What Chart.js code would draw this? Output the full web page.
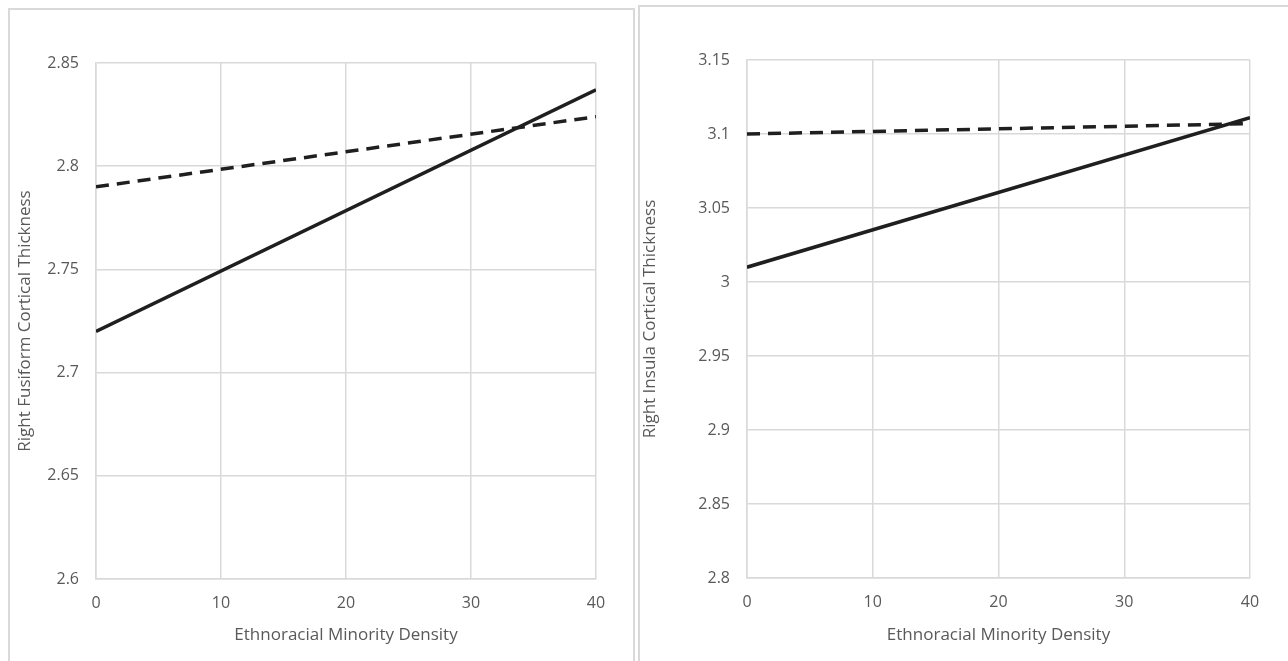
<!DOCTYPE html>
<html lang="en">
<head>
  <meta charset="UTF-8" />
  <title>Ethnoracial Minority Density and Cortical Thickness</title>
  <script src="https://cdn.jsdelivr.net/npm/chart.js"></script>
  <style>
    body { margin: 0; background: #fff; width: 1288px; height: 661px; overflow: hidden; position: relative; }
    .box { position: absolute; border: 2px solid #d9d9d9; box-sizing: border-box; }
    #boxLeft { left: 8px; top: 8px; width: 627px; height: 680px; }
    #boxRight { left: 638px; top: 5px; width: 680px; height: 680px; }
    canvas { position: absolute; }
    #chartLeft { left: 8px; top: 9px; }
    #chartRight { left: 639px; top: 6px; }
  </style>
</head>
<body>
  <div class="box" id="boxLeft"></div>
  <div class="box" id="boxRight"></div>
  <canvas id="chartLeft" width="625" height="652" style="width:625px;height:652px"></canvas>
  <canvas id="chartRight" width="649" height="655" style="width:649px;height:655px"></canvas>

  <script>
    // Datos
    const density = [0, 40];
    const xTicks = [0, 10, 20, 30, 40];

    const fusiformSolid = [2.72, 2.837];
    const fusiformDashed = [2.79, 2.824];
    const fusiformTicks = [2.6, 2.65, 2.7, 2.75, 2.8, 2.85];

    const insulaSolid = [3.01, 3.111];
    const insulaDashed = [3.1, 3.107];
    const insulaTicks = [2.8, 2.85, 2.9, 2.95, 3, 3.05, 3.1, 3.15];

    const lineColor = '#1f1f1f';
    const gridColor = '#d9d9d9';
    const textColor = '#595959';
    const fontFamily = '"Open Sans", sans-serif';

    function points(ys) {
      return density.map((x, i) => ({ x: x, y: ys[i] }));
    }

    function makeChart(id, solid, dashed, yTicks, yTitle, dims) {
      const ctx = document.getElementById(id).getContext('2d');
      return new Chart(ctx, {
        type: 'scatter',
        data: {
          datasets: [
            {
              label: 'solid',
              data: points(solid),
              showLine: true,
              borderColor: lineColor,
              borderWidth: 3.5,
              pointRadius: 0,
              fill: false
            },
            {
              label: 'dashed',
              data: points(dashed),
              showLine: true,
              borderColor: lineColor,
              borderWidth: 3.5,
              borderDash: [13, 8],
              pointRadius: 0,
              fill: false
            }
          ]
        },
        options: {
          responsive: false,
          animation: false,
          devicePixelRatio: 1,
          layout: { padding: { left: 0, top: dims.top, right: dims.right, bottom: 0 } },
          plugins: { legend: { display: false }, tooltip: { enabled: false } },
          scales: {
            x: {
              type: 'linear',
              min: xTicks[0],
              max: xTicks[xTicks.length - 1],
              afterFit: s => { s.height = dims.xHeight; },
              afterBuildTicks: s => { s.ticks = xTicks.map(v => ({ value: v })); },
              grid: { color: gridColor, lineWidth: 1.5, drawTicks: false },
              border: { color: gridColor, width: 1.5 },
              ticks: {
                color: textColor,
                font: { family: fontFamily, size: 16 },
                padding: 15,
                maxRotation: 0
              },
              title: {
                display: true,
                text: 'Ethnoracial Minority Density',
                color: textColor,
                font: { family: fontFamily, size: 17 },
                padding: { top: 0, bottom: 16 }
              }
            },
            y: {
              type: 'linear',
              min: yTicks[0],
              max: yTicks[yTicks.length - 1],
              afterFit: s => { s.width = dims.yWidth; },
              afterBuildTicks: s => { s.ticks = yTicks.map(v => ({ value: v })); },
              grid: { color: gridColor, lineWidth: 1.5, drawTicks: false },
              border: { color: gridColor, width: 1.5 },
              ticks: {
                color: textColor,
                font: { family: fontFamily, size: 16 },
                padding: 17,
                callback: v => String(+v.toFixed(2))
              },
              title: {
                display: true,
                text: yTitle,
                color: textColor,
                font: { family: fontFamily, size: 17 },
                padding: { top: dims.titlePad, bottom: 0 }
              }
            }
          }
        }
      });
    }

    makeChart('chartLeft', fusiformSolid, fusiformDashed, fusiformTicks,
      'Right Fusiform Cortical Thickness',
      { top: 54, right: 37, xHeight: 82, yWidth: 88, titlePad: 7 });

    makeChart('chartRight', insulaSolid, insulaDashed, insulaTicks,
      'Right Insula Cortical Thickness',
      { top: 54, right: 38, xHeight: 83, yWidth: 108, titlePad: 1 });
  </script>
</body>
</html>
